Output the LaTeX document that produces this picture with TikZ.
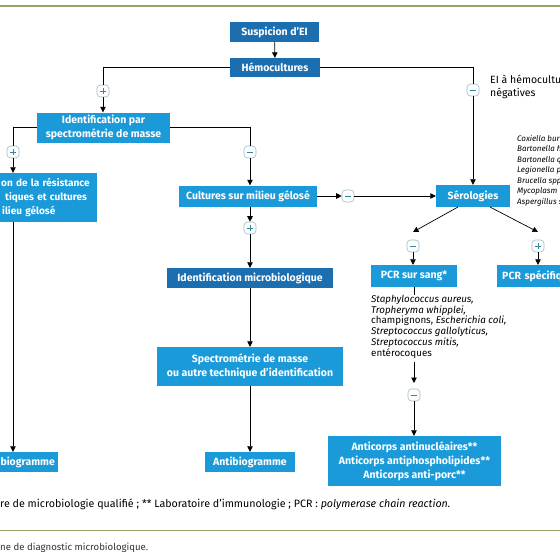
\documentclass[tikz,border=0pt]{standalone}
\usepackage{fontspec}
\setmainfont{Fira Sans}
\usetikzlibrary{arrows.meta,calc}
\definecolor{darkbox}{HTML}{1B6FB1}
\definecolor{lightbox}{HTML}{1A9AD9}
\definecolor{rulecol}{HTML}{9AA36A}
\definecolor{signborder}{HTML}{9DBBCB}
\definecolor{signcol}{HTML}{2A8AA0}
\tikzset{
  x=1pt,y=-1pt,
  box/.style={inner sep=2pt,align=center,text=white,font=\bfseries\fontsize{10.5}{14}\selectfont},
  dbox/.style={box,fill=darkbox},
  lbox/.style={box,fill=lightbox},
  conn/.style={draw=black,line width=0.7pt},
  arr/.style={conn,-{Triangle[length=5.5pt,width=5.5pt]}},
  sign/.style={draw=signborder,fill=white,line width=0.6pt,rounded corners=3.5pt,minimum width=12pt,minimum height=12pt,inner sep=0pt},
  plussign/.style={sign,path picture={\draw[signcol,line width=0.6pt] ($(path picture bounding box.center)+(-3.2,0)$) -- ++(6.4,0) ($(path picture bounding box.center)+(0,-3.2)$) -- ++(0,6.4);}},
  minussign/.style={sign,path picture={\draw[signcol,line width=0.6pt] ($(path picture bounding box.center)+(-3.2,0)$) -- ++(6.4,0);}},
  species/.style={inner sep=0pt,align=left,font=\itshape\fontsize{8}{10.5}\selectfont},
}
\begin{document}
\begin{tikzpicture}
\useasboundingbox (0,0) rectangle (560,560);
\clip (0,0) rectangle (560,560);
\fill[white] (0,0) rectangle (560,560);
% rules
\draw[rulecol,line width=1.2pt] (0,6) -- (560,6);
\draw[rulecol,line width=1pt] (0,530) -- (560,530);

% boxes
\node[dbox,minimum width=89pt,minimum height=20pt] (susp) at (274.5,32) {Suspicion d'EI};
\node[dbox,minimum width=90pt,minimum height=19pt] (hemo) at (275,67.5) {Hémocultures};
\node[lbox,minimum width=133pt,minimum height=30pt] (idspec) at (103.5,127.5) {Identification par\\spectrométrie de masse};
\node[lbox,anchor=west,align=left,text width=101pt,inner xsep=4pt,minimum height=49pt,font=\bfseries\fontsize{10}{14}\selectfont] (resist) at (-12,197.5) {\hspace*{9pt}on de la résistance\\\hspace*{13pt}tiques et cultures\\\hspace*{10pt}ilieu gélosé};
\node[lbox,minimum width=138pt,minimum height=21pt] (cult) at (248,196) {Cultures sur milieu gélosé};
\node[lbox,minimum width=74pt,minimum height=22pt] (sero) at (473,196) {Sérologies};
\node[dbox,minimum width=166pt,minimum height=20pt] (idmicro) at (250,278) {Identification microbiologique};
\node[lbox,minimum width=86pt,minimum height=22pt] (pcrS) at (414,276) {PCR sur sang*};
\node[lbox,anchor=west,align=left,text width=80pt,inner xsep=5pt,minimum height=22pt] (pcrSpec) at (497,276) {PCR spécifiq};
\node[lbox,minimum width=186pt,minimum height=39pt] (spectro) at (250,366.5) {Spectrométrie de masse\\ou autre technique d'identification};
\node[lbox,minimum width=90pt,minimum height=20pt] (antM) at (250,462) {Antibiogramme};
\node[lbox,anchor=east,align=right,text width=64pt,inner xsep=3pt,minimum height=20pt] (antL) at (58,462) {biogramme};
\node[lbox,minimum width=173pt,minimum height=50pt] (anti) at (414.5,461) {Anticorps antinucléaires**\\Anticorps antiphospholipides**\\Anticorps anti-porc**};

% signs
\node[plussign] (pl1) at (103,91) {};
\node[minussign] (mi1) at (473,90) {};
\node[plussign] (pl2) at (13,152) {};
\node[minussign] (mi2) at (250,152) {};
\node[minussign] (mi3) at (348,196) {};
\node[plussign] (pl3) at (250,228) {};
\node[minussign] (mi4) at (413,246) {};
\node[plussign] (pl4) at (538,246) {};
\node[minussign] (mi5) at (414,395) {};

% texts
\node[anchor=west,inner sep=0pt,align=left,font=\fontsize{10.5}{13}\selectfont] (eilabel) at (490,86.5) {EI à hémocultu\\négatives};
\node[species,anchor=north west] (germsR) at (517,135) {Coxiella bur\\Bartonella h\\Bartonella q\\Legionella p\\Brucella spp\\Mycoplasm\\Aspergillus s};
\node[inner sep=0pt,align=left,anchor=north west,font=\fontsize{9.8}{10.7}\selectfont] (germsS) at (371,295) {\textit{Staphylococcus aureus,}\\\textit{Tropheryma whipplei,}\\champignons, \textit{Escherichia coli,}\\\textit{Streptococcus gallolyticus,}\\\textit{Streptococcus mitis,}\\entérocoques};
\node[anchor=west,inner sep=0pt,font=\fontsize{10.7}{12}\selectfont] (foot) at (0,504) {re de microbiologie qualifié ; ** Laboratoire d'immunologie ; PCR : \textit{polymerase chain reaction.}};
\node[anchor=west,inner sep=0pt,text=black!80,font=\fontsize{9.6}{11}\selectfont] (caption) at (0,548) {ne de diagnostic microbiologique.};

% coordinates
\coordinate (tipL) at (413,232);
\coordinate (tipR) at (538,232);
\coordinate (srcL) at (458,207);
\coordinate (srcR) at (490,207);
\coordinate (spStart) at (414,362);
\coordinate (spEnd) at (414,383);

% connectors
\draw[arr] (susp) -- (hemo);
\draw[conn] (hemo.west) -| (pl1.north);
\draw[arr] (pl1.south) -- (pl1 |- idspec.north);
\draw[conn] (hemo.east) -| (mi1.north);
\draw[arr] (mi1.south) -- (mi1 |- sero.north);
\draw[conn] (idspec.west) -| (pl2.north);
\draw[arr] (pl2.south) -- (pl2 |- resist.north);
\draw[conn] (idspec.east) -| (mi2.north);
\draw[arr] (mi2.south) -- (mi2 |- cult.north);
\draw[arr] (pl2 |- resist.south) -- (pl2 |- antL.north);
\draw[arr] (cult.east) -- (mi3.west);
\draw[arr] (mi3.east) -- (sero.west);
\draw[arr] (pl3 |- cult.south) -- (pl3.north);
\draw[arr] (pl3.south) -- (pl3 |- idmicro.north);
\draw[arr] (idmicro.south) -- (idmicro.south |- spectro.north);
\draw[arr] (spectro.south) -- (spectro.south |- antM.north);
\draw[arr] (srcL) -- (tipL);
\draw[arr] (srcR) -- (tipR);
\draw[arr] (mi4.south) -- (mi4 |- pcrS.north);
\draw[arr] (pl4.south) -- (pl4 |- pcrSpec.north);
\draw[conn] (pcrS.south) -- (pcrS.south |- germsS.north);
\draw[arr] (spStart) -- (spEnd);
\draw[arr] (mi5.south) -- (mi5 |- anti.north);
\end{tikzpicture}
\end{document}
